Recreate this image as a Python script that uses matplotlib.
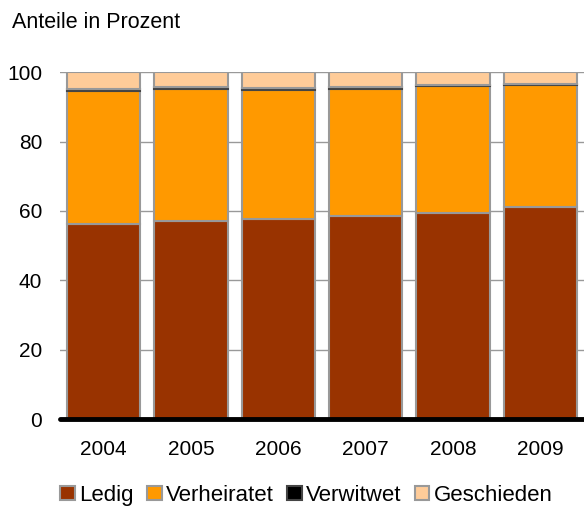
import numpy as np
import matplotlib.pyplot as plt

plt.rcParams['font.family'] = ['Liberation Sans', 'DejaVu Sans']

# Werte (Anteile in Prozent)
years = ["2004", "2005", "2006", "2007", "2008", "2009"]
ledig = [56.3, 57.0, 57.6, 58.4, 59.4, 61.0]
verheiratet = [38.2, 38.2, 37.3, 36.8, 36.7, 35.3]
verwitwet = [0.5, 0.4, 0.4, 0.4, 0.3, 0.3]
geschieden = [5.0, 4.4, 4.7, 4.4, 3.6, 3.4]

series = [
    ("Ledig", ledig, "#993300", "#999999"),
    ("Verheiratet", verheiratet, "#FF9900", "#999999"),
    ("Verwitwet", verwitwet, "#000000", "#444444"),
    ("Geschieden", geschieden, "#FFCC99", "#999999"),
]

fig = plt.figure(figsize=(5.84, 5.08), dpi=100)
ax = fig.add_axes([0.103, 0.175, 0.897, 0.683])

x = np.arange(len(years))
bottom = np.zeros(len(years))
for name, vals, col, edge in series:
    ax.bar(x, vals, width=0.84, bottom=bottom, color=col,
           edgecolor=edge, linewidth=1.5, label=name, zorder=3)
    bottom += np.array(vals)

ax.set_xlim(-0.5, 5.5)
ax.set_ylim(0, 100)
ax.set_yticks([0, 20, 40, 60, 80, 100])
ax.set_xticks(x)
ax.set_xticklabels(years)
ax.yaxis.grid(True, color="#999999", linewidth=1)
ax.set_axisbelow(True)
for s in ["top", "right", "left"]:
    ax.spines[s].set_visible(False)
ax.spines["bottom"].set_linewidth(3.5)
ax.spines["bottom"].set_capstyle("round")
ax.spines["bottom"].set_zorder(5)
ax.tick_params(axis="both", length=0, labelsize=15, colors="black")
ax.tick_params(axis="x", pad=15)
ax.tick_params(axis="y", pad=13)

fig.text(0.02, 0.945, "Anteile in Prozent", fontsize=15.5, va="baseline")

fig.legend(loc="lower center", bbox_to_anchor=(0.525, -0.035), ncol=4,
           frameon=False, fontsize=16, handlelength=0.65, handleheight=0.65,
           handletextpad=0.2, columnspacing=0.6)

fig.savefig("out.png", dpi=100)
